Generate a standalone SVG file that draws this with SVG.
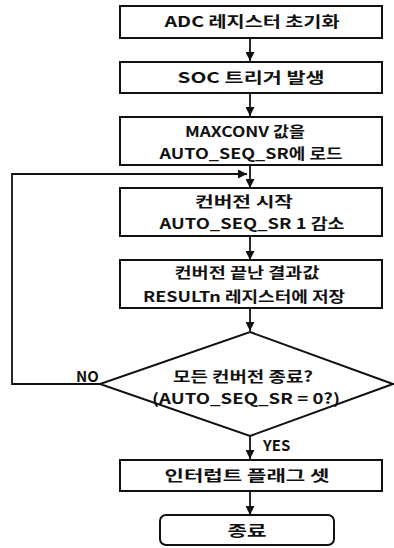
<svg xmlns="http://www.w3.org/2000/svg" width="394" height="548" viewBox="0 0 394 548">
  <style>
    .box { fill: #ffffff; stroke: #111111; stroke-width: 2; }
    .line { fill: none; stroke: #111111; stroke-width: 1.8; }
    .t { font-family: "Noto Sans CJK KR", "Liberation Sans", sans-serif; font-weight: bold; font-size: 15px; fill: #111111; text-anchor: middle; }
    .t2 { font-size: 14.5px; }
    .lbl { font-family: "Noto Sans CJK KR", "Liberation Sans", sans-serif; font-weight: bold; font-size: 15px; fill: #111111; }
  </style>
  <defs>
    <marker id="arrow" viewBox="0 0 10 10" refX="10" refY="5" markerWidth="5" markerHeight="5" orient="auto" markerUnits="strokeWidth">
      <path d="M0,0 L10,5 L0,10 Z" fill="#111111"/>
    </marker>
  </defs>

  <!-- connectors -->
  <g id="connectors">
    <line class="line" x1="250" y1="38" x2="250" y2="61" marker-end="url(#arrow)"/>
    <line class="line" x1="250" y1="93" x2="250" y2="116" marker-end="url(#arrow)"/>
    <line class="line" x1="250" y1="165" x2="250" y2="188" marker-end="url(#arrow)"/>
    <line class="line" x1="250" y1="236" x2="250" y2="260" marker-end="url(#arrow)"/>
    <line class="line" x1="250" y1="308" x2="250" y2="331" marker-end="url(#arrow)"/>
    <polyline class="line" points="100,384 12,384 12,174 247,174" marker-end="url(#arrow)"/>
    <line class="line" x1="250" y1="436" x2="250" y2="459" marker-end="url(#arrow)"/>
    <line class="line" x1="250" y1="491" x2="250" y2="515" marker-end="url(#arrow)"/>
    <text class="lbl" x="76" y="382">NO</text>
    <text class="lbl" x="263" y="451">YES</text>
  </g>

  <g id="init">
    <rect class="box" x="120" y="6" width="262" height="32"/>
    <text class="t" x="252" y="27" textLength="175" lengthAdjust="spacingAndGlyphs">ADC 레지스터 초기화</text>
  </g>

  <g id="soc">
    <rect class="box" x="120" y="62" width="262" height="31"/>
    <text class="t" x="251" y="83" textLength="147" lengthAdjust="spacingAndGlyphs">SOC 트리거 발생</text>
  </g>

  <g id="load">
    <rect class="box" x="120" y="117" width="262" height="48"/>
    <text class="t t2" x="245" y="137" textLength="120" lengthAdjust="spacingAndGlyphs">MAXCONV 값을</text>
    <text class="t t2" x="251" y="159" textLength="183" lengthAdjust="spacingAndGlyphs">AUTO_SEQ_SR에 로드</text>
  </g>

  <g id="start">
    <rect class="box" x="120" y="188" width="262" height="48"/>
    <text class="t t2" x="244" y="207" textLength="98" lengthAdjust="spacingAndGlyphs">컨버전 시작</text>
    <text class="t t2" x="252" y="229" textLength="185" lengthAdjust="spacingAndGlyphs">AUTO_SEQ_SR 1 감소</text>
  </g>

  <g id="store">
    <rect class="box" x="120" y="260" width="262" height="48"/>
    <text class="t t2" x="247" y="278" textLength="145" lengthAdjust="spacingAndGlyphs">컨버전 끝난 결과값</text>
    <text class="t t2" x="244" y="302" textLength="202" lengthAdjust="spacingAndGlyphs">RESULTn 레지스터에 저장</text>
  </g>

  <g id="check">
    <polygon class="box" points="250,332 393,384 250,436 100,384"/>
    <text class="t t2" x="243" y="382" textLength="140" lengthAdjust="spacingAndGlyphs">모든 컨버전 종료?</text>
    <text class="t t2" x="246" y="404" textLength="188" lengthAdjust="spacingAndGlyphs">(AUTO_SEQ_SR = 0?)</text>
  </g>

  <g id="flag">
    <rect class="box" x="120" y="460" width="262" height="31"/>
    <text class="t" x="247" y="481" textLength="165" lengthAdjust="spacingAndGlyphs">인터럽트 플래그 셋</text>
  </g>

  <g id="end">
    <rect class="box" x="160" y="515" width="174" height="30" rx="6" ry="6"/>
    <text class="t" x="247" y="536" textLength="39" lengthAdjust="spacingAndGlyphs">종료</text>
  </g>
</svg>
